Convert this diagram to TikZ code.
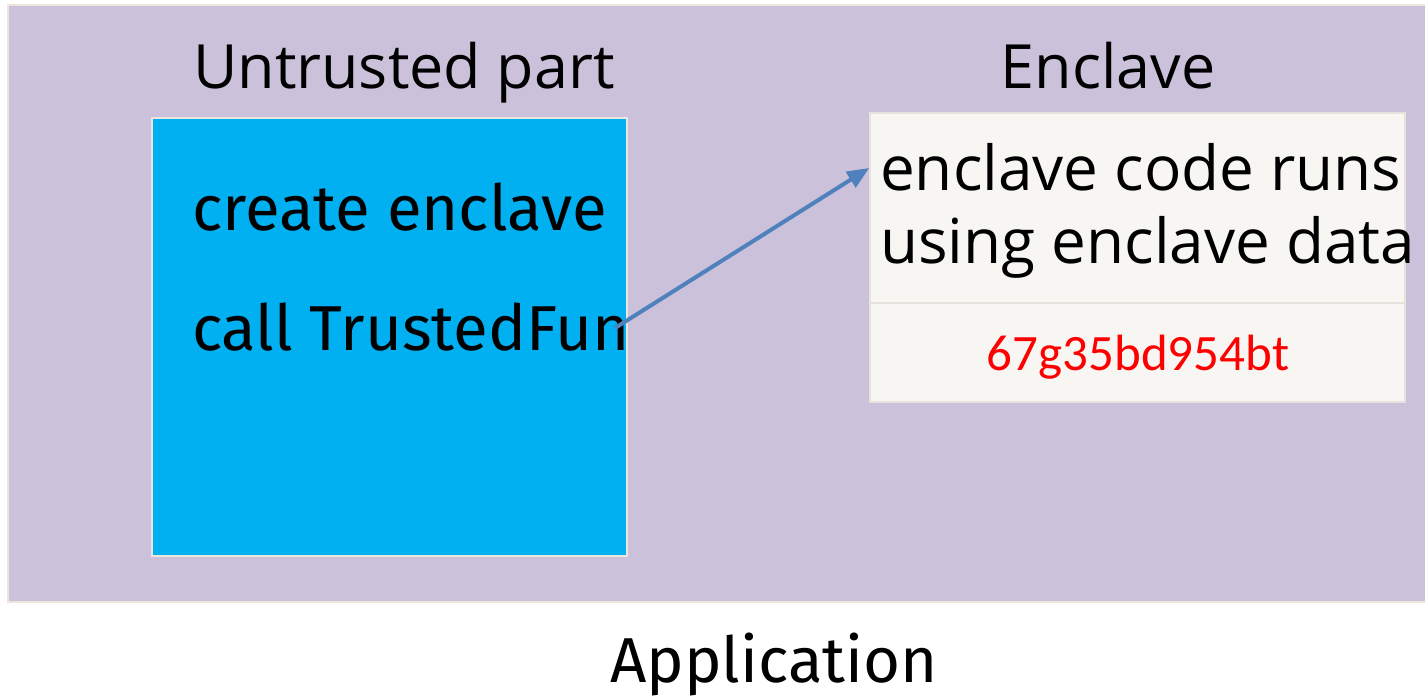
\documentclass[tikz,border=0pt]{standalone}
\usepackage{fontspec}
\setmainfont{Open Sans}
\newfontfamily\bodyfont{Fira Sans}
\newfontfamily\hashfont{Carlito}
\definecolor{appbg}{HTML}{CBC1DB}
\definecolor{appedge}{HTML}{EDE6DF}
\definecolor{untrusted}{HTML}{00B0F0}
\definecolor{enclavebg}{HTML}{F7F6F3}
\definecolor{enclaveedge}{HTML}{E6E2DC}
\definecolor{callarrow}{HTML}{4F81BD}
\definecolor{hashred}{HTML}{FF0000}
\tikzset{
  heading/.style={anchor=base west, inner sep=0pt, font=\fontsize{61}{70}\selectfont},
  bodytext/.style={anchor=base west, inner sep=0pt, font=\bodyfont\fontsize{63.5}{72}\selectfont},
  enclavetext/.style={anchor=base west, inner sep=0pt, font=\fontsize{62}{70}\selectfont},
  callline/.style={draw=callarrow, line width=4pt, -{Triangle[length=22pt,width=18pt]}},
}
\usetikzlibrary{arrows.meta}
\begin{document}
\begin{tikzpicture}[x=1pt,y=-1pt]
  \useasboundingbox (0,0) rectangle (1425,697);
  % application area
  \path[fill=appbg, draw=appedge, line width=1.5pt] (8,5) rectangle (1432,602);
  % untrusted part
  \node[heading] (uttitle) at (193,88) {Untrusted part};
  \path[fill=untrusted, draw=appedge, line width=1.5pt] (152,118) rectangle (627,556);
  \node[bodytext] (create) at (192,230) {create enclave};
  \node[bodytext] (call) at (192,350) {call TrustedFun};
  % enclave
  \node[heading, anchor=base] (enctitle) at (1108,88) {Enclave};
  \node[draw=enclaveedge, fill=enclavebg, line width=1.5pt, inner sep=0pt,
        minimum width=535pt, minimum height=289pt] (enclave) at (1137.5,257.5) {};
  \draw[enclaveedge, line width=1.5pt] (870,303) -- (1405,303);
  \node[enclavetext] (runs) at (880,190) {enclave code runs};
  \node[enclavetext] (data) at (880,263) {using enclave data};
  \node[anchor=base, inner sep=0pt, text=hashred, font=\hashfont\fontsize{51}{58}\selectfont] (hash) at (1138,370) {67g35bd954bt};
  % call into the enclave
  \coordinate (callstart) at (615,328);
  \coordinate (callend) at (enclave.west |- 0,168);
  \draw[callline] (callstart) -- (callend);
  % caption
  \node[bodytext, anchor=base] (app) at (774,682) {Application};
\end{tikzpicture}
\end{document}
